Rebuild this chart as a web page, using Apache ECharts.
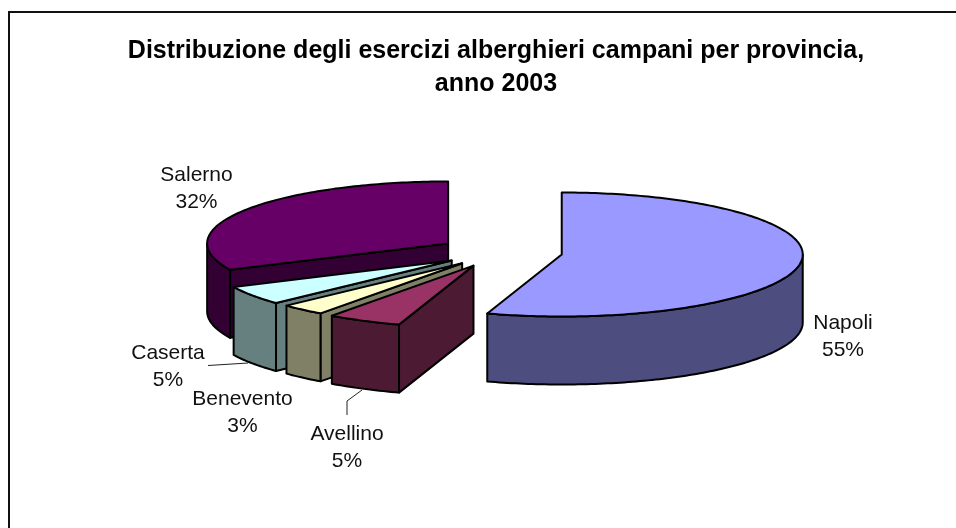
<!DOCTYPE html>
<html style="height: 100%">
<head>
    <meta charset="utf-8">
</head>
<body style="height: 100%; margin: 0; background: #fff">
    <div id="container" style="width: 956px; height: 528px"></div>
    <script src="https://cdn.jsdelivr.net/npm/echarts@6/dist/echarts.min.js"></script>
    <script type="text/javascript">
        var titleText = 'Distribuzione degli esercizi alberghieri campani per provincia,\nanno 2003';
        var province = ['Napoli', 'Avellino', 'Benevento', 'Caserta', 'Salerno'];
        var percent = [55, 5, 3, 5, 32];
        var topColors = ['#9999ff', '#993366', '#ffffcc', '#ccffff', '#660066'];
        var sideColors = ['#4d4d80', '#4d1a33', '#808066', '#668080', '#330033'];

        // label centres, same order as province
        var labelX = [843, 347, 242.5, 168, 196.5];
        var labelY = [337, 448, 413, 367, 189];

        // leader lines from slice edge to label
        var leaders = [
            [[248, 363], [208, 365.5]],
            [[362, 390], [347, 401], [347, 415]]
        ];

        // pie geometry, in pixels
        var cx = 500.5, cy = 252, rx = 241, ry = 62, depth = 68;
        var explode = [62, 59.5, 58, 59, 62];

        var dom = document.getElementById('container');
        var myChart = echarts.init(dom);

        // clockwise from 12 o'clock, on the tilted plane
        function onPlane(ox, oy, deg) {
            var a = deg * Math.PI / 180;
            return [ox + rx * Math.sin(a), oy - ry * Math.cos(a)];
        }

        function arcPoints(ox, oy, from, to) {
            var pts = [];
            var steps = Math.max(2, Math.ceil(to - from));
            for (var i = 0; i <= steps; i++) {
                pts.push(onPlane(ox, oy, from + (to - from) * i / steps));
            }
            return pts;
        }

        function face(points, color) {
            return {
                type: 'polygon',
                shape: { points: points },
                style: { fill: color, stroke: '#000', lineWidth: 2, lineJoin: 'round' }
            };
        }

        function renderSlice(params, api) {
            var i = api.value(0);
            var start = 0;
            for (var k = 0; k < i; k++) start += percent[k] * 3.6;
            var end = start + percent[i] * 3.6;
            var mid = (start + end) / 2;
            var o = onPlane(cx, cy, mid);
            // onPlane scales by rx, so shrink the vector to the explosion distance
            var ox = cx + (o[0] - cx) * explode[i] / rx;
            var oy = cy + (o[1] - cy) * explode[i] / rx;
            var children = [];

            // cut wall on the start edge shows only when it faces the viewer
            if (start > 180 && start < 360) {
                var p = onPlane(ox, oy, start);
                children.push(face([[ox, oy], p, [p[0], p[1] + depth], [ox, oy + depth]], sideColors[i]));
            }
            // rim: only the front half of the ellipse
            var a = Math.max(start, 90), b = Math.min(end, 270);
            if (b > a) {
                var rimTop = arcPoints(ox, oy, a, b);
                var rimBottom = rimTop.map(function (q) { return [q[0], q[1] + depth]; }).reverse();
                children.push(face(rimTop.concat(rimBottom), sideColors[i]));
            }
            children.push(face([[ox, oy]].concat(arcPoints(ox, oy, start, end)), topColors[i]));
            return { type: 'group', children: children };
        }

        var labelStyle = { fontFamily: 'Liberation Sans', fontSize: 21, lineHeight: 27, fill: '#111', align: 'center', verticalAlign: 'middle' };

        var graphics = [
            { type: 'polyline', shape: { points: [[9, 528], [9, 12], [956, 12]] }, style: { stroke: '#111', lineWidth: 2, fill: null } }
        ];
        leaders.forEach(function (points) {
            graphics.push({ type: 'polyline', shape: { points: points }, style: { stroke: '#222', lineWidth: 1, fill: null } });
        });
        province.forEach(function (name, i) {
            graphics.push({
                type: 'text', x: labelX[i], y: labelY[i],
                style: Object.assign({ text: name + '\n' + percent[i] + '%' }, labelStyle)
            });
        });

        var option = {
            animation: false,
            backgroundColor: '#fff',
            title: {
                text: titleText,
                left: 491,
                top: 30,
                textAlign: 'center',
                textStyle: { fontFamily: 'Liberation Sans', fontSize: 25, fontWeight: 'bold', color: '#000', lineHeight: 33 }
            },
            graphic: graphics,
            series: [{
                type: 'custom',
                coordinateSystem: 'none',
                silent: true,
                renderItem: renderSlice,
                // painter's order: back slices first
                data: [4, 3, 2, 1, 0].map(function (i) { return [i, percent[i]]; })
            }]
        };
        myChart.setOption(option);
    </script>
</body>
</html>
